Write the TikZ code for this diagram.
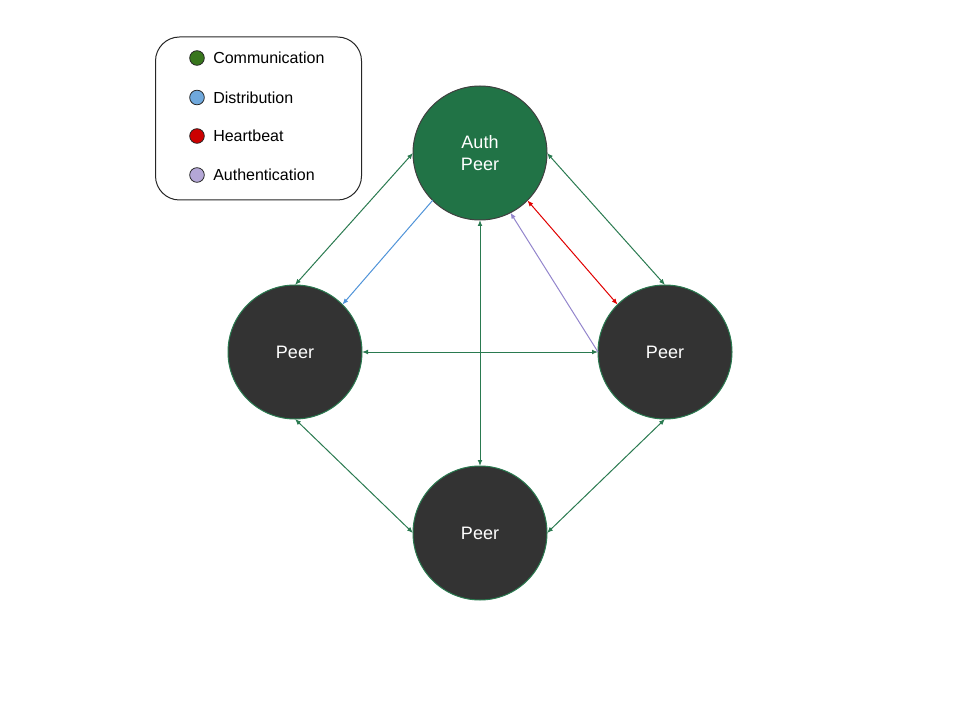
\documentclass[tikz,border=0pt]{standalone}
\usepackage{fontspec}
\setmainfont{Liberation Sans}
\usetikzlibrary{arrows.meta}
\definecolor{authfill}{HTML}{217346}
\definecolor{peerfill}{HTML}{333333}
\definecolor{comline}{HTML}{2A7A50}
\definecolor{distline}{HTML}{4F93D8}
\definecolor{hbline}{HTML}{E00000}
\definecolor{authline}{HTML}{9385CC}
\definecolor{dotgreen}{HTML}{38761D}
\definecolor{dotblue}{HTML}{6FA8DC}
\definecolor{dotred}{HTML}{CC0000}
\definecolor{dotpurple}{HTML}{B4A7D6}
\tikzset{
  peernode/.style={circle, minimum size=100.5pt, inner sep=0pt, outer sep=0pt,
    fill=peerfill, draw=comline, line width=0.75pt, text=white,
    font=\fontsize{13.5}{16.5}\selectfont, align=center},
  authnode/.style={peernode, fill=authfill, draw=black!75},
  conn/.style={line width=0.75pt, >={Latex[length=4.5pt,width=3.6pt]}},
  legdot/.style={circle, minimum size=11pt, inner sep=0pt, draw=black!85, line width=0.6pt},
  legtext/.style={anchor=west, inner sep=0pt, font=\fontsize{12}{14}\selectfont},
}
\begin{document}
\begin{tikzpicture}[x=0.75pt,y=-0.75pt]
\useasboundingbox (0,0) rectangle (960,720);
% legend
\node[draw=black!85, line width=0.75pt, rounded corners=18pt, minimum width=154.5pt, minimum height=122.25pt, inner sep=0pt] (legend) at (258.5,118.5) {};
\node[legdot, fill=dotgreen] (d1) at (197,58) {};
\node[legdot, fill=dotblue] (d2) at (197,97.5) {};
\node[legdot, fill=dotred] (d3) at (197,136) {};
\node[legdot, fill=dotpurple] (d4) at (197,175) {};
\node[legtext] (t1) at (213,58) {Communication};
\node[legtext] (t2) at (213,97.5) {Distribution};
\node[legtext] (t3) at (213,136) {Heartbeat};
\node[legtext] (t4) at (213,175) {Authentication};
% nodes
\node[authnode] (auth) at (480,153) {Auth\\Peer};
\node[peernode] (left) at (295,352) {Peer};
\node[peernode] (right) at (665,352) {Peer};
\node[peernode] (bottom) at (480,533) {Peer};
% communication
\draw[conn, comline, <->] (auth.west) -- (left.north);
\draw[conn, comline, <->] (auth.east) -- (right.north);
\draw[conn, comline, <->] (auth.south) -- (bottom.north);
\draw[conn, comline, <->] (left.east) -- (right.west);
\draw[conn, comline, <->] (left.south) -- (bottom.west);
\draw[conn, comline, <->] (right.south) -- (bottom.east);
% distribution
\draw[conn, distline, ->] (auth.south west) -- (left.north east);
% heartbeat
\draw[conn, hbline, <->] (auth.south east) -- (right.north west);
% authentication
\draw[conn, authline, ->] (right.west) -- (auth.-63.4);
\end{tikzpicture}
\end{document}
